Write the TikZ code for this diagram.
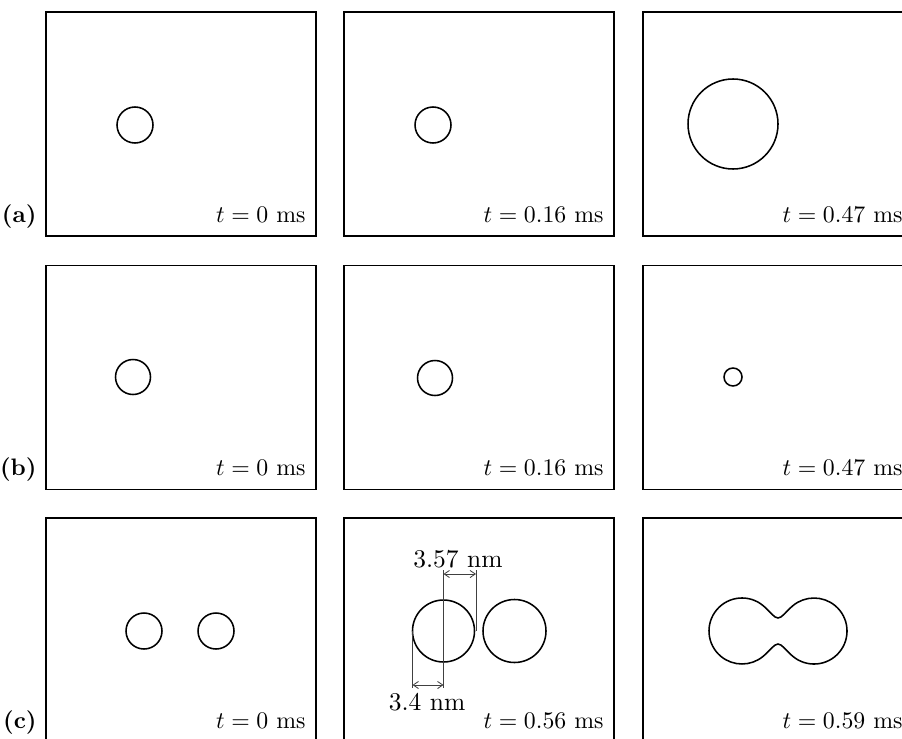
\documentclass[tikz,border=0pt]{standalone}
\usepackage{amsmath}
\usepackage{tikz}
\usetikzlibrary{arrows.meta,positioning,calc}

\begin{document}
\begin{tikzpicture}[
    x=0.42pt, y=-0.42pt,
    >={Straight Barb[length=2.2pt,width=3pt]},
    every node/.style={font=\normalsize},
    panel/.style={draw, line width=0.8pt, rectangle, inner sep=0pt, minimum width=113.4pt, minimum height=94.1pt},
    tlabel/.style={anchor=base east, inner sep=0pt},
    plabel/.style={anchor=base east, inner sep=0pt, font=\bfseries},
    drop/.style={line width=0.65pt},
    dimline/.style={line width=0.35pt, black!75},
    dimtext/.style={inner sep=0pt, font=\fontsize{10.7}{13}\selectfont}
]
\useasboundingbox (0,0) rectangle (902,738);

% panels, one row per case
\foreach \row/\y in {a/124, b/377.5, c/630}
  \foreach \col/\x in {1/181, 2/479, 3/778}
    \node[panel] (\row\col) at (\x,\y) {};

\foreach \p/\t in {a1/0, a2/0.16, a3/0.47, b1/0, b2/0.16, b3/0.47, c1/0, c2/0.56, c3/0.59}
  \node[tlabel] (t\p) at ([shift={(-11,211)}]\p.north east) {$t=\t$ ms};

\node[plabel] (la) at ([shift={(-8,211)}]a1.north west) {(a)};
\node[plabel] (lb) at ([shift={(-8,211)}]b1.north west) {(b)};
\node[plabel] (lc) at ([shift={(-8,211)}]c1.north west) {(c)};

% (a) growing droplet
\draw[drop] (135,125) circle[radius=18];
\draw[drop] (433,125) circle[radius=18];
\draw[drop] (733,124) circle[radius=45];

% (b) shrinking droplet
\draw[drop] (133,377) circle[radius=17.5];
\draw[drop] (435,378) circle[radius=17.5];
\draw[drop] (733,377) circle[radius=9];

% (c) two droplets merging
\draw[drop] (144,631) circle[radius=18];
\draw[drop] (216,631) circle[radius=18];
\draw[drop] (443.5,631) circle[radius=31];
\draw[drop] (514.5,631) circle[radius=31.5];
\draw[drop] (763.2,605.7) arc[start angle=-50, end angle=-310, radius=33]
    .. controls (770,650.6) and (774,644) .. (778,644)
    .. controls (782,644) and (786,650.6) .. (792.8,656.3)
    arc[start angle=130, end angle=-130, radius=33]
    .. controls (786,611.4) and (782,618) .. (778,618)
    .. controls (774,618) and (770,611.4) .. cycle;

% dimensions in c2
\coordinate (g1) at (443.5,570);
\coordinate (g2) at (443.5,688);
\coordinate (r1) at (476,570);
\coordinate (r2) at (476,631);
\coordinate (l1) at (412.5,631);
\coordinate (l2) at (412.5,688);
\coordinate (u1) at (443.5,574);
\coordinate (u2) at (476,574);
\coordinate (d1) at (412.5,685);
\coordinate (d2) at (443.5,685);
\draw[dimline] (g1) -- (g2);
\draw[dimline] (r1) -- (r2);
\draw[dimline] (l1) -- (l2);
\draw[dimline, <->] (u1) -- (u2);
\draw[dimline, <->] (d1) -- (d2);
\node[dimtext] (dup) at (458,559.5) {3.57 nm};
\node[dimtext] (dlow) at (427,702.5) {3.4 nm};

\end{tikzpicture}
\end{document}
